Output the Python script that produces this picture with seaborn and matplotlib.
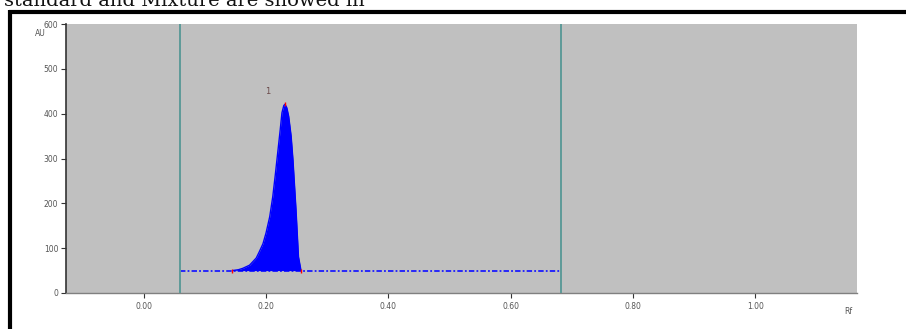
import matplotlib
matplotlib.use("Agg")
import matplotlib.pyplot as plt
import seaborn as sns
import pandas as pd
from matplotlib.lines import Line2D

# ---- data ----
rf_peak = [0.145, 0.155, 0.162, 0.173, 0.184, 0.189, 0.195, 0.200, 0.206, 0.211,
           0.215, 0.219, 0.223, 0.226, 0.229, 0.231, 0.234, 0.237, 0.241, 0.244,
           0.249, 0.253, 0.257]
au_peak = [50, 52, 55, 62, 78, 92, 110, 134, 170, 215, 262, 312, 362, 402, 418,
           421, 413, 394, 350, 297, 185, 81, 51]
rf_base = [0.059, 0.682]
au_base = [50, 50]
rf_marks = [0.145, 0.231, 0.257]
au_marks = [50, 421, 50]
front_lines = [0.059, 0.682]
peak_label = "1"
peak_label_pos = (0.202, 450)
x_ticks = [0.0, 0.2, 0.4, 0.6, 0.8, 1.0]
x_tick_labels = ["0.00", "0.20", "0.40", "0.60", "0.80", "1.00"]
y_ticks = [0, 100, 200, 300, 400, 500, 600]
y_tick_labels = ["0", "100", "200", "300", "400", "500", "600"]

sns.set_style("white")
plt.rcParams['font.family'] = ['DejaVu Sans']

fig = plt.figure(figsize=(9.06, 3.29), dpi=100)
ax = fig.add_axes([66/906, 1-293/329, (857-66)/906, (293-24)/329])
ax.set_facecolor('#c0c0c0')

peak_df = pd.DataFrame({"rf": rf_peak, "au": au_peak})
base_df = pd.DataFrame({"rf": rf_base, "au": au_base})

ax.fill_between(rf_peak, au_peak, 50, color='#0000ff', linewidth=0, zorder=3)
sns.lineplot(data=peak_df, x="rf", y="au", ax=ax, color='#0000ff', lw=1, zorder=4,
             sort=False)
sns.lineplot(data=base_df, x="rf", y="au", ax=ax, color='#1a1aff', lw=1.3, zorder=2,
             linestyle=(0, (3, 1.2, 1, 1.2)))
ax.scatter(rf_marks, au_marks, marker='|', color='red', s=8, lw=1, zorder=5)

for xv in front_lines:
    ax.axvline(xv, color='#5e9a98', lw=1.4, zorder=6)

ax.text(peak_label_pos[0], peak_label_pos[1], peak_label, fontsize=6,
        color='#6a4a4a', ha='center', va='center')

ax.set_xlim(-0.127, 1.166)
ax.set_ylim(0, 600)
ax.set_xticks(x_ticks)
ax.set_xticklabels(x_tick_labels)
ax.set_yticks(y_ticks)
ax.set_yticklabels(y_tick_labels)
ax.set_xlabel("")
ax.set_ylabel("")
ax.tick_params(axis='both', labelsize=5.5, colors='#333333', labelcolor='#555555',
               length=3.5, width=0.8, direction='out', bottom=True, left=True)
ax.tick_params(axis='x', pad=3)
ax.tick_params(axis='y', pad=2)

for s in ['top', 'right']:
    ax.spines[s].set_visible(False)
ax.spines['left'].set_color('#333333')
ax.spines['left'].set_linewidth(1.2)
ax.spines['bottom'].set_color('#808080')
ax.spines['bottom'].set_linewidth(1.0)

fig.text(40/906, 1-33/329, "AU", fontsize=5.5, color='#555555', ha='center', va='center')
fig.text(848/906, 1-312/329, "Rf", fontsize=5.5, color='#555555', ha='center', va='center')

# outer frame
fig.add_artist(Line2D([10/906, 10/906], [0, 1-10/329], color='black', lw=3.0,
                      transform=fig.transFigure, solid_capstyle='butt'))
fig.add_artist(Line2D([8.5/906, 1.0], [1-12/329, 1-12/329], color='black', lw=3.0,
                      transform=fig.transFigure, solid_capstyle='butt'))

# caption text at the top (cut off by the image edge, as in the reference)
fig.text(4/906, 1-6/329, "standard and Mixture are showed in", fontsize=14,
         family='DejaVu Serif', color='#111111', ha='left', va='baseline')

fig.savefig("out.png", dpi=100)
